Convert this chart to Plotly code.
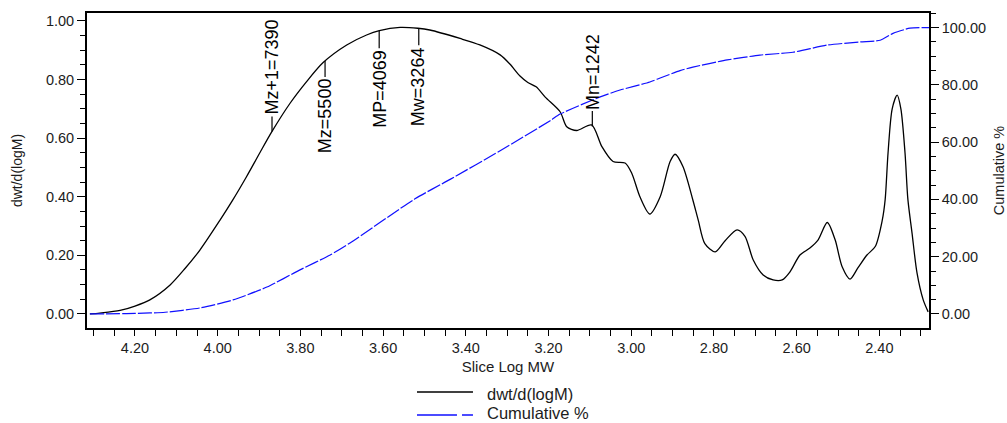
import numpy as np
import plotly.graph_objects as go

# ---------------- data ----------------
slice_log_mw = [4.309, 4.285, 4.236, 4.200, 4.164, 4.115, 4.079, 4.043, 3.994, 3.963,
                3.930, 3.898, 3.869, 3.825, 3.785, 3.745, 3.688, 3.640, 3.609, 3.559,
                3.516, 3.487, 3.414, 3.366, 3.317, 3.293, 3.269, 3.250, 3.230, 3.208,
                3.172, 3.156, 3.132, 3.096, 3.071, 3.044, 3.015, 2.999, 2.979, 2.955,
                2.930, 2.906, 2.894, 2.875, 2.851, 2.838, 2.822, 2.797, 2.773, 2.744,
                2.725, 2.705, 2.681, 2.657, 2.635, 2.616, 2.592, 2.568, 2.548, 2.526,
                2.507, 2.490, 2.471, 2.452, 2.430, 2.410, 2.393, 2.386, 2.379, 2.369,
                2.357, 2.348, 2.338, 2.331, 2.321, 2.309, 2.294, 2.282]
dwt_dlogm = [0.0, 0.003, 0.012, 0.027, 0.048, 0.099, 0.155, 0.218, 0.321, 0.39,
             0.469, 0.55, 0.622, 0.719, 0.793, 0.858, 0.918, 0.952, 0.967, 0.978,
             0.975, 0.969, 0.94, 0.918, 0.884, 0.852, 0.812, 0.79, 0.775, 0.74,
             0.69, 0.639, 0.626, 0.645, 0.571, 0.52, 0.515, 0.481, 0.40, 0.341,
             0.40, 0.52, 0.545, 0.503, 0.389, 0.32, 0.24, 0.212, 0.25, 0.287,
             0.265, 0.184, 0.133, 0.116, 0.116, 0.144, 0.201, 0.225, 0.253, 0.312,
             0.253, 0.161, 0.119, 0.157, 0.201, 0.23, 0.32, 0.39, 0.55, 0.70,
             0.747, 0.70, 0.55, 0.39, 0.276, 0.14, 0.048, 0.007]

cum_log_mw = [4.309, 4.200, 4.127, 4.043, 3.963, 3.881, 3.801, 3.728, 3.680, 3.523,
              3.438, 3.317, 3.196, 3.172, 3.075, 3.027, 2.955, 2.930, 2.882, 2.851,
              2.768, 2.689, 2.609, 2.526, 2.446, 2.398, 2.367, 2.326, 2.280]
cumulative_pct = [0.0, 0.2, 0.6, 2.1, 4.9, 9.4, 15.4, 20.6, 24.8, 40.2,
                  47.0, 57.0, 67.5, 69.8, 75.8, 78.2, 81.0, 82.4, 85.0, 86.2,
                  88.7, 90.4, 91.4, 93.9, 95.0, 95.6, 98.0, 99.8, 100.0]

marker_names = ["Mz+1", "Mz", "MP", "Mw", "Mn"]
marker_values = [7390, 5500, 4069, 3264, 1242]

series_names = ["dwt/d(logM)", "Cumulative %"]
x_title = "Slice Log MW"

# ---------------- style ----------------
FONT = "Liberation Sans, Arial, sans-serif"
TXT = "#1c1c1c"
BLUE = "#1010ff"
label_offsets = [-64, 55, 58, 58, -55]   # px offset of label centre from curve point

fig = go.Figure()
fig.add_trace(go.Scatter(x=slice_log_mw, y=dwt_dlogm, mode="lines",
                         line=dict(color="black", width=1.3, shape="spline", smoothing=0.8),
                         name=series_names[0], showlegend=False))
fig.add_trace(go.Scatter(x=cum_log_mw, y=cumulative_pct, mode="lines", yaxis="y2",
                         line=dict(color=BLUE, width=1.2, dash="14px,2px",
                                   shape="spline", smoothing=0.6),
                         name=series_names[1], showlegend=False))

# marker annotations on the distribution curve
xs_sorted = np.array(slice_log_mw)[::-1]
ys_sorted = np.array(dwt_dlogm)[::-1]
annotations = []
for name, val, off in zip(marker_names, marker_values, label_offsets):
    lx = float(np.log10(val))
    ly = float(np.interp(lx, xs_sorted, ys_sorted))
    annotations.append(dict(x=lx, y=ly, xref="x", yref="y",
                            text=f"{name}={val}", textangle=-90,
                            showarrow=True, arrowhead=0, arrowwidth=1.2,
                            arrowcolor="black", ax=0, ay=off, standoff=0,
                            font=dict(family=FONT, size=18, color="black")))

# custom legend
leg_y = [-0.2032, -0.2762]
leg_text_y = [-0.2095, -0.2698]
leg_colors = ["black", BLUE]
leg_dash = ["solid", "40px,5px"]
shapes = []
for i in range(2):
    shapes.append(dict(type="line", xref="paper", yref="paper",
                       x0=0.3919, x1=0.4584, y0=leg_y[i], y1=leg_y[i],
                       line=dict(color=leg_colors[i], width=1.3, dash=leg_dash[i])))
    annotations.append(dict(x=0.4727, y=leg_text_y[i], xref="paper", yref="paper",
                            text=series_names[i], showarrow=False,
                            xanchor="left", yanchor="middle",
                            font=dict(family=FONT, size=16.5, color=TXT)))

axis_common = dict(showline=True, linecolor="black", linewidth=1.8, automargin=False,
                   ticks="outside", tickcolor="black", tickwidth=1.3, ticklen=8,
                   showgrid=False, zeroline=False, tickformat=".2f",
                   tickfont=dict(family=FONT, size=14.5, color=TXT))

fig.update_layout(
    width=1007, height=423,
    margin=dict(l=87, r=78, t=13, b=95),
    paper_bgcolor="white", plot_bgcolor="white",
    showlegend=False,
    xaxis=dict(**{k: v for k, v in axis_common.items() if k != "ticklen"},
               ticklen=6, range=[4.316, 2.280], tick0=0, dtick=0.2, mirror=True,
               minor=dict(dtick=0.05, tick0=0, ticks="outside", ticklen=6,
                          tickcolor="black", tickwidth=1.3),
               title=dict(text=x_title, standoff=6,
                          font=dict(family=FONT, size=15, color=TXT))),
    yaxis=dict(**axis_common, range=[-0.048, 1.027], tick0=0, dtick=0.2,
               minor=dict(dtick=0.05, tick0=0, ticks="outside", ticklen=5,
                          tickcolor="black", tickwidth=1.3),
               title=dict(text=series_names[0], standoff=20,
                          font=dict(family=FONT, size=14, color=TXT))),
    yaxis2=dict(**axis_common, overlaying="y", side="right",
                range=[-4.9, 105.1], tick0=0, dtick=20,
                minor=dict(dtick=5, tick0=0, ticks="outside", ticklen=5,
                           tickcolor="black", tickwidth=1.3),
                title=dict(text=series_names[1], standoff=14,
                           font=dict(family=FONT, size=14.5, color=TXT))),
    annotations=annotations,
    shapes=shapes,
)

# remove the browser's default 8px body margin so the figure fills the window
fig.write_html("out.html", config={"displayModeBar": False},
               post_script="document.body.style.margin='0px';"
                           "document.body.style.overflow='hidden';")
